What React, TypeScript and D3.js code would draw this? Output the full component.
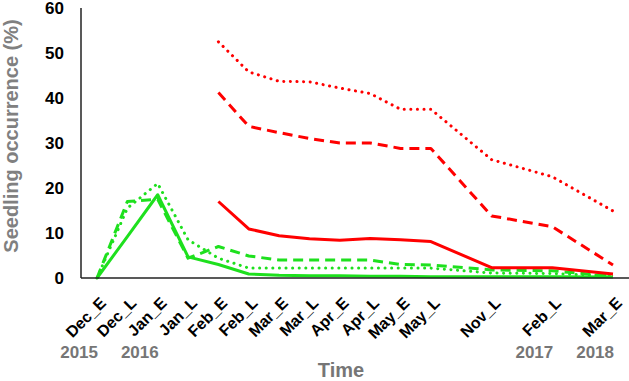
import React from "react";
import * as d3 from "d3";

const categories = ["Dec_E", "Dec_L", "Jan_E", "Jan_L", "Feb_E", "Feb_L", "Mar_E", "Mar_L", "Apr_E", "Apr_L", "May_E", "May_L", "Nov_L", "Feb_L", "Mar_E"];
const positions = [0, 1, 2, 3, 4, 5, 6, 7, 8, 9, 10, 11, 13, 15, 17];
const years = [
  { label: "2015", pos: 0 },
  { label: "2016", pos: 2 },
  { label: "2017", pos: 15 },
  { label: "2018", pos: 17 },
];
const yTicks = [0, 10, 20, 30, 40, 50, 60];

const greenSolid = [0, 9.2, 18.5, 4.7, 3.0, 0.9, 0.6, 0.5, 0.5, 0.4, 0.4, 0.3, 0.3, 0.3, 0.2];
const greenDashed = [0, 17, 17.5, 4.4, 7.0, 4.9, 4.0, 4.0, 4.0, 4.0, 3.0, 2.9, 1.8, 1.6, 0.4];
const greenDotted = [0, 15.5, 21, 8.5, 4.4, 2.2, 2.2, 2.2, 2.2, 2.2, 2.2, 2.2, 1.1, 1.0, 0.5];
const redSolid = [null, null, null, null, 17, 10.9, 9.4, 8.7, 8.4, 8.8, 8.5, 8.1, 2.3, 2.3, 0.9];
const redDashed = [null, null, null, null, 41.2, 33.7, 32.3, 31, 30, 30, 28.8, 28.8, 13.8, 11.4, 2.9];
const redDotted = [null, null, null, null, 52.5, 45.8, 43.7, 43.6, 42.2, 41, 37.5, 37.5, 26.3, 22.5, 14.9];

const GREEN = "#1EE01E";
const RED = "#FF0000";

const series = [
  { values: greenSolid, color: GREEN, dash: "none", cap: "butt" },
  { values: greenDashed, color: GREEN, dash: "10 6", cap: "butt" },
  { values: greenDotted, color: GREEN, dash: "0.1 6.5", cap: "round" },
  { values: redSolid, color: RED, dash: "none", cap: "butt" },
  { values: redDashed, color: RED, dash: "10 6", cap: "butt" },
  { values: redDotted, color: RED, dash: "0.1 6.5", cap: "round" },
];

export default function App() {
  const W = 629, H = 381;
  const x = d3.scaleLinear().domain([0, 17]).range([97, 613]);
  const y = d3.scaleLinear().domain([0, 60]).range([278, 8]);
  const line = d3
    .line<number | null>()
    .defined((d) => d !== null)
    .x((_, i) => x(positions[i]))
    .y((d) => y(d as number));

  const font = "'Liberation Sans', Arial, sans-serif";
  return (
    <svg width={W} height={H} style={{ position: "absolute", left: 0, top: 0, background: "#fff" }} fontFamily={font}>
      <rect width={W} height={H} fill="#fff" />
      {series.map((s, i) => (
        <path
          key={i}
          d={line(s.values as (number | null)[]) || ""}
          fill="none"
          stroke={s.color}
          strokeWidth={3}
          strokeDasharray={s.dash}
          strokeLinecap={s.cap as any}
          strokeLinejoin="round"
        />
      ))}
      <line x1={81} x2={81} y1={y(60)} y2={y(0)} stroke="#222" strokeWidth={1.5} />
      <line x1={81} x2={629} y1={y(0)} y2={y(0)} stroke="#222" strokeWidth={1.5} />
      {yTicks.map((t) => (
        <text key={t} x={64} y={y(t)} dy="0.36em" textAnchor="end" fontSize={17} fontWeight="bold" fill="#000">
          {t}
        </text>
      ))}
      {categories.map((c, i) => {
        const ax = x(positions[i]) + 10;
        const ay = 304;
        return (
          <text key={i} x={ax} y={ay} transform={`rotate(-45 ${ax} ${ay})`} textAnchor="end" fontSize={16} fontWeight="bold" fill="#000">
            {c}
          </text>
        );
      })}
      {years.map((yr) => (
        <text key={yr.label} x={x(yr.pos) + 1} y={358} textAnchor="end" fontSize={17} fontWeight="bold" fill="#767676">
          {yr.label}
        </text>
      ))}
      <text x={341} y={377} textAnchor="middle" fontSize={20} fontWeight="bold" fill="#767676">
        Time
      </text>
      <text transform={`translate(18 ${136}) rotate(-90)`} textAnchor="middle" fontSize={20} fontWeight="bold" fill="#808080">
        Seedling occurrence (%)
      </text>
    </svg>
  );
}
